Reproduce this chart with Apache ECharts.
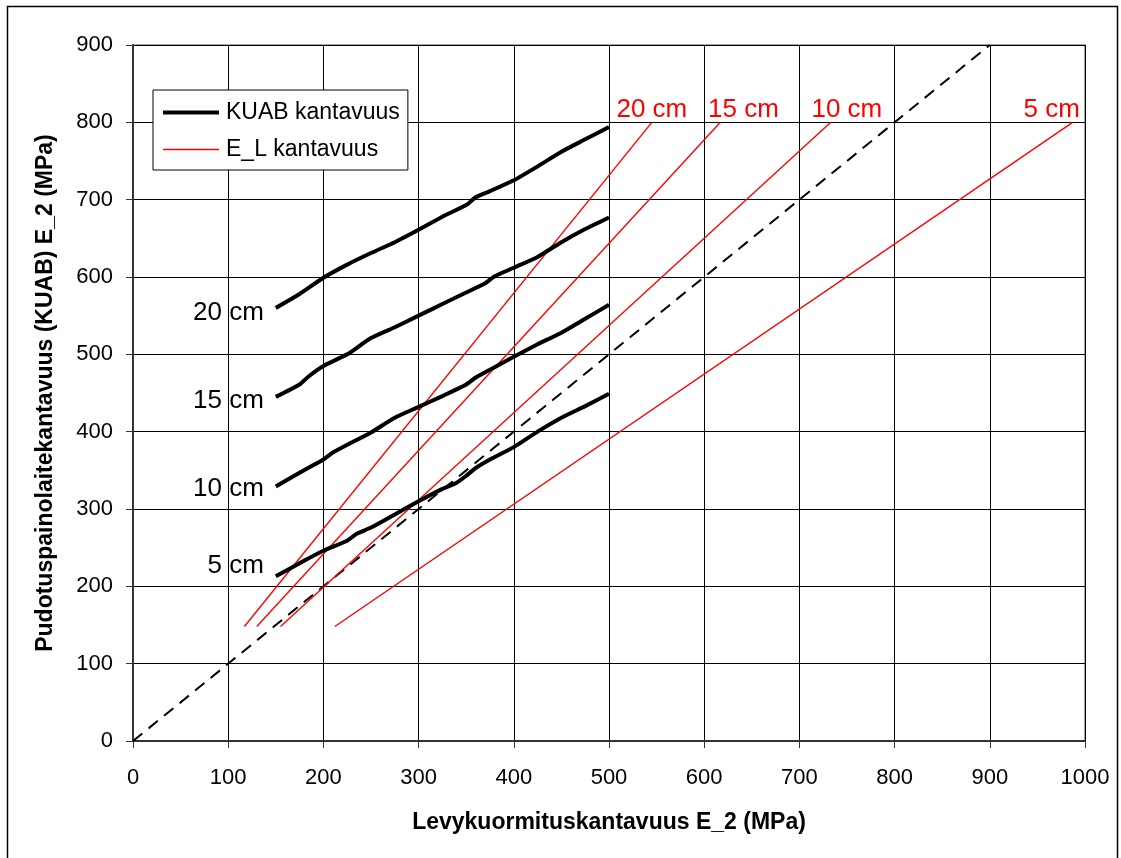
<!DOCTYPE html>
<html>
<head>
<meta charset="utf-8">
<script src="https://cdn.jsdelivr.net/npm/echarts@6/dist/echarts.min.js"></script>
<style>
  html, body { margin: 0; padding: 0; background: #fff; }
  #chart { width: 1121px; height: 858px; }
</style>
</head>
<body>
<div id="chart"></div>
<script>
// Plate load bearing capacity (x) vs. falling weight deflectometer bearing capacity (y), MPa
const layerLabels = ['20 cm', '15 cm', '10 cm', '5 cm'];

// KUAB measured curves, [E_2 plate, E_2 KUAB]
const kuab20 = [[150,560],[175,578],[200,599],[225,616],[250,631],[275,645],[300,661],[325,678],[350,693],[360,703],[375,711],[400,725],[425,743],[450,762],[475,778],[500,794]];
const kuab15 = [[150,445],[175,461],[185,472],[200,485],[225,500],[250,521],[275,535],[300,550],[325,565],[350,580],[370,592],[380,601],[400,612],[425,626],[450,645],[475,662],[500,677]];
const kuab10 = [[150,329],[175,347],[200,364],[210,373],[225,383],[250,399],[275,418],[300,432],[325,446],[350,461],[360,470],[375,480],[400,497],[425,513],[450,528],[475,546],[500,564]];
const kuab5  = [[150,213],[175,230],[200,246],[225,259],[235,268],[250,276],[275,293],[300,310],[325,326],[340,334],[350,343],[360,353],[375,364],[400,380],[425,400],[450,418],[475,433],[500,449]];

// E_L bearing capacity lines
const el20 = [[117,148],[545,800]];
const el15 = [[130,148],[617,800]];
const el10 = [[155,148],[733,800]];
const el5  = [[212,148],[987,800]];

// Equality line y = x
const equality = [[0,0],[900,900]];

const xTicks = { min: 0, max: 1000, interval: 100 };
const yTicks = { min: 0, max: 900, interval: 100 };

const FONT = '"Liberation Sans", Arial, sans-serif';
const KUAB_WIDTH = 4;
const EL_WIDTH = 1.4;

function kuabSeries(data, label, offset) {
  return {
    name: 'KUAB kantavuus',
    type: 'line',
    data: data,
    showSymbol: false,
    symbol: 'none',
    smooth: 0.2,
    lineStyle: { color: '#000', width: KUAB_WIDTH },
    itemStyle: { color: '#000' },
    z: 3,
    markPoint: {
      symbol: 'circle', symbolSize: 0,
      label: {
        show: true, position: 'left', distance: 12, offset: offset,
        formatter: label, color: '#000', fontSize: 26, fontFamily: FONT
      },
      data: [{ coord: data[0] }]
    }
  };
}

function elSeries(data, label, offset) {
  return {
    name: 'E_L kantavuus',
    type: 'line',
    data: data,
    showSymbol: false,
    symbol: 'none',
    lineStyle: { color: '#ff0000', width: EL_WIDTH },
    itemStyle: { color: '#ff0000' },
    z: 2,
    markPoint: {
      symbol: 'circle', symbolSize: 0,
      label: {
        show: true, position: 'top', distance: 0, offset: offset,
        formatter: label, color: '#ff0000', fontSize: 26, fontFamily: FONT
      },
      data: [{ coord: data[data.length - 1] }]
    }
  };
}

const chart = echarts.init(document.getElementById('chart'), null, { renderer: 'canvas' });

chart.setOption({
  animation: false,
  backgroundColor: '#fff',
  textStyle: { fontFamily: FONT },
  grid: { left: 133, right: 36, top: 45, bottom: 117, show: true, borderColor: '#888', borderWidth: 1.5 },
  graphic: [{
    type: 'rect', z: 100, silent: true,
    shape: { x: 7.5, y: 6.5, width: 1110, height: 870 },
    style: { fill: null, stroke: '#000', lineWidth: 1.5 }
  }],
  legend: {
    data: [
      { name: 'KUAB kantavuus', lineStyle: { color: '#000', width: KUAB_WIDTH } },
      { name: 'E_L kantavuus', lineStyle: { color: '#ff0000', width: EL_WIDTH } }
    ],
    orient: 'vertical',
    left: 153, top: 90,
    padding: [11, 8, 9, 8],
    itemGap: 14,
    itemWidth: 56, itemHeight: 24,
    itemStyle: { opacity: 0 },
    backgroundColor: '#fff',
    borderColor: '#000', borderWidth: 1,
    selectedMode: false,
    textStyle: { fontSize: 23, color: '#000', fontFamily: FONT, padding: [0, 0, 0, 2] }
  },
  xAxis: {
    type: 'value',
    min: xTicks.min, max: xTicks.max, interval: xTicks.interval,
    name: 'Levykuormituskantavuus E_2 (MPa)',
    nameLocation: 'middle', nameGap: 70,
    nameTextStyle: { fontSize: 23, fontWeight: 'bold', color: '#000', fontFamily: FONT },
    axisLine: { show: true, lineStyle: { color: '#333', width: 2 } },
    axisTick: { show: true, inside: false, length: 7, lineStyle: { color: '#333', width: 1 } },
    axisLabel: { fontSize: 22, color: '#000', margin: 26, fontFamily: FONT, formatter: v => String(v) },
    splitLine: { show: true, lineStyle: { color: '#000', width: 1 } }
  },
  yAxis: {
    type: 'value',
    min: yTicks.min, max: yTicks.max, interval: yTicks.interval,
    name: 'Pudotuspainolaitekantavuus (KUAB) E_2 (MPa)',
    nameLocation: 'middle', nameGap: 76, nameRotate: 90,
    nameTextStyle: { fontSize: 23, fontWeight: 'bold', color: '#000', fontFamily: FONT },
    axisLine: { show: true, lineStyle: { color: '#333', width: 2 } },
    axisTick: { show: true, inside: false, length: 7, lineStyle: { color: '#333', width: 1 } },
    axisLabel: { fontSize: 22, color: '#000', margin: 20, fontFamily: FONT, formatter: v => String(v) },
    splitLine: { show: true, lineStyle: { color: '#000', width: 1 } }
  },
  series: [
    kuabSeries(kuab20, layerLabels[0], [0, 5]),
    kuabSeries(kuab15, layerLabels[1], [0, 4]),
    kuabSeries(kuab10, layerLabels[2], [0, 2]),
    kuabSeries(kuab5, layerLabels[3], [0, -10]),
    elSeries(el20, layerLabels[0], [0, 0]),
    elSeries(el15, layerLabels[1], [23, 0]),
    elSeries(el10, layerLabels[2], [16, 0]),
    elSeries(el5, layerLabels[3], [-21, 0]),
    {
      name: 'equality',
      type: 'line',
      data: equality,
      showSymbol: false,
      symbol: 'none',
      lineStyle: { color: '#000', width: 2, type: [12, 8] },
      z: 1
    }
  ]
});
</script>
</body>
</html>
